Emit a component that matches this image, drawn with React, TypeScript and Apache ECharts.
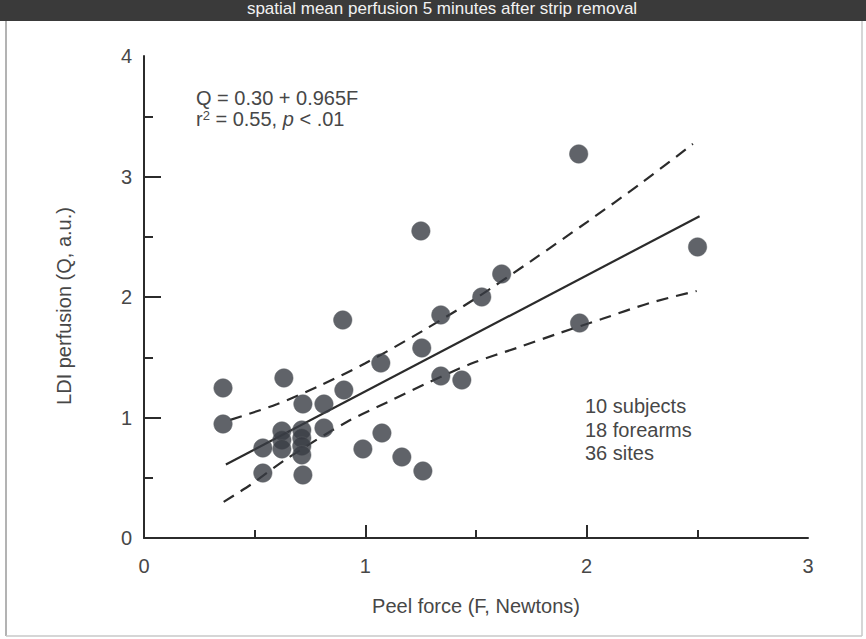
import React, { useEffect, useRef } from "react";
import * as echarts from "echarts";

// Peel force (F, N) vs LDI perfusion (Q, a.u.) — one entry per visible site
const peelForce = [
  0.357, 0.357, 0.632, 0.898, 0.903, 0.989, 1.07, 1.075, 1.165, 1.251, 1.255,
  1.26, 1.341, 1.341, 1.436, 1.526, 1.616, 1.964, 1.968, 2.501, 0.718, 0.813,
  0.623, 0.623, 0.623, 0.713, 0.713, 0.713, 0.713, 0.813, 0.537, 0.537, 0.718,
];
const perfusion = [
  1.245, 0.946, 1.328, 1.809, 1.228, 0.739, 1.452, 0.871, 0.672, 2.548, 1.577,
  0.556, 1.851, 1.344, 1.311, 2.0, 2.191, 3.187, 1.784, 2.415, 1.112, 1.112,
  0.888, 0.813, 0.739, 0.896, 0.83, 0.763, 0.689, 0.913, 0.747, 0.539, 0.523,
];

// regression line ends
const fitF = [0.37, 2.51];
const fitQ = [0.61, 2.67];

// confidence band (upper)
const upperF = [0.39, 0.6, 0.8, 1.0, 1.26, 1.5, 1.75, 2.0, 2.25, 2.48];
const upperQ = [0.98, 1.11, 1.27, 1.45, 1.72, 1.99, 2.3, 2.62, 2.95, 3.27];

// confidence band (lower)
const lowerF = [0.36, 0.48, 0.65, 0.916, 1.102, 1.291, 1.485, 1.684, 1.878, 2.068, 2.285, 2.497];
const lowerQ = [0.3, 0.44, 0.664, 0.963, 1.129, 1.295, 1.452, 1.577, 1.701, 1.817, 1.95, 2.05];

const xTicks = [0, 1, 2, 3];
const yTicks = [0, 1, 2, 3, 4];
const xMajorTickMarks = [1, 2];
const yMajorTickMarks = [1, 2, 3];

const bannerText = "spatial mean perfusion 5 minutes after strip removal";
const eqLine = "Q = 0.30 + 0.965F";
const noteLines = ["10 subjects", "18 forearms", "36 sites"];
const yTitle = "LDI perfusion (Q, a.u.)";
const xTitle = "Peel force (F, Newtons)";

const FONT = "'Liberation Sans', Arial, sans-serif";
const INK = "#2b2b2b";
const TXT = "#474747";

const zip = (a: number[], b: number[]) => a.map((v, i) => [v, b[i]]);

export default function App() {
  const ref = useRef<HTMLDivElement>(null);
  useEffect(() => {
    if (!ref.current) return;
    const chart = echarts.init(ref.current, null, { renderer: "svg" });
    const axisCommon = {
      type: "value" as const,
      axisLine: { show: true, lineStyle: { color: INK, width: 2 } },
      splitLine: { show: false },
      axisTick: { show: true, inside: true, lineStyle: { color: INK, width: 2 } },
      minorTick: { show: true, splitNumber: 2, lineStyle: { color: INK, width: 2 } },
      axisLabel: { color: TXT, fontFamily: FONT, fontSize: 20 },
      nameTextStyle: { color: TXT, fontFamily: FONT, fontSize: 20 },
    };
    chart.setOption({
      animation: false,
      backgroundColor: "#ffffff",
      grid: { left: 144, top: 56, right: 58, bottom: 101, containLabel: false },
      xAxis: {
        ...axisCommon,
        min: xTicks[0],
        max: xTicks[xTicks.length - 1],
        interval: 1,
        axisTick: { ...axisCommon.axisTick, length: 13, customValues: xMajorTickMarks },
        minorTick: { ...axisCommon.minorTick, length: 8 },
        axisLabel: { ...axisCommon.axisLabel, margin: 18 },
        name: xTitle,
        nameLocation: "middle",
        nameGap: 58,
      },
      yAxis: {
        ...axisCommon,
        min: yTicks[0],
        max: yTicks[yTicks.length - 1],
        interval: 1,
        axisTick: { ...axisCommon.axisTick, length: 17, customValues: yMajorTickMarks },
        minorTick: { ...axisCommon.minorTick, length: 9 },
        axisLabel: { ...axisCommon.axisLabel, margin: 12 },
      },
      series: [
        {
          type: "line",
          data: zip(upperF, upperQ),
          symbol: "none",
          smooth: 0.3,
          lineStyle: { color: INK, width: 2.2, type: [12, 8] },
          z: 2,
        },
        {
          type: "line",
          data: zip(lowerF, lowerQ),
          symbol: "none",
          smooth: 0.3,
          lineStyle: { color: INK, width: 2.2, type: [12, 8] },
          z: 2,
        },
        {
          type: "line",
          data: zip(fitF, fitQ),
          symbol: "none",
          lineStyle: { color: INK, width: 2.2 },
          z: 2,
        },
        {
          type: "scatter",
          data: zip(peelForce, perfusion),
          symbol: "circle",
          symbolSize: 18.5,
          itemStyle: { color: "#383c43", borderColor: "#5d6066", borderWidth: 0.6 },
          z: 3,
        },
      ],
      graphic: [
        { type: "rect", left: 0, top: 0, shape: { width: 866, height: 21 }, style: { fill: "#3a3a3a" } },
        {
          type: "text",
          x: 442,
          y: 8,
          style: {
            text: bannerText,
            fill: "#f2f2f2",
            font: `17px ${FONT}`,
            align: "center",
            verticalAlign: "middle",
          },
        },
        { type: "line", shape: { x1: 6, y1: 21, x2: 6, y2: 636 }, style: { stroke: "#9a9a9a", lineWidth: 1.5 } },
        { type: "line", shape: { x1: 862, y1: 21, x2: 862, y2: 636 }, style: { stroke: "#c8c8c8", lineWidth: 1.5 } },
        { type: "line", shape: { x1: 6, y1: 636, x2: 862, y2: 636 }, style: { stroke: "#c8c8c8", lineWidth: 1.5 } },
        {
          type: "text",
          x: 64,
          y: 306,
          rotation: Math.PI / 2,
          style: { text: yTitle, fill: TXT, font: `20px ${FONT}`, align: "center", verticalAlign: "middle" },
        },
        {
          type: "text",
          x: 196,
          y: 98,
          style: { text: eqLine, fill: TXT, font: `20px ${FONT}`, verticalAlign: "middle" },
        },
        {
          type: "text",
          x: 196,
          y: 119,
          style: {
            text: "r{sup|2} = 0.55, {it|p} < .01",
            fill: TXT,
            font: `20px ${FONT}`,
            verticalAlign: "middle",
            rich: {
              sup: { fontSize: 13, fontFamily: FONT, fill: TXT, verticalAlign: "top", padding: [0, 0, 8, 0] },
              it: { fontSize: 20, fontFamily: FONT, fontStyle: "italic", fill: TXT },
            },
          },
        },
        ...noteLines.map((t, i) => ({
          type: "text",
          x: 585,
          y: 406 + i * 23.5,
          style: { text: t, fill: TXT, font: `20px ${FONT}`, verticalAlign: "middle" },
        })),
      ],
    });
    return () => chart.dispose();
  }, []);
  return (
    <div
      ref={ref}
      style={{ position: "fixed", left: 0, top: 0, width: 866, height: 639, background: "#fff" }}
    />
  );
}
